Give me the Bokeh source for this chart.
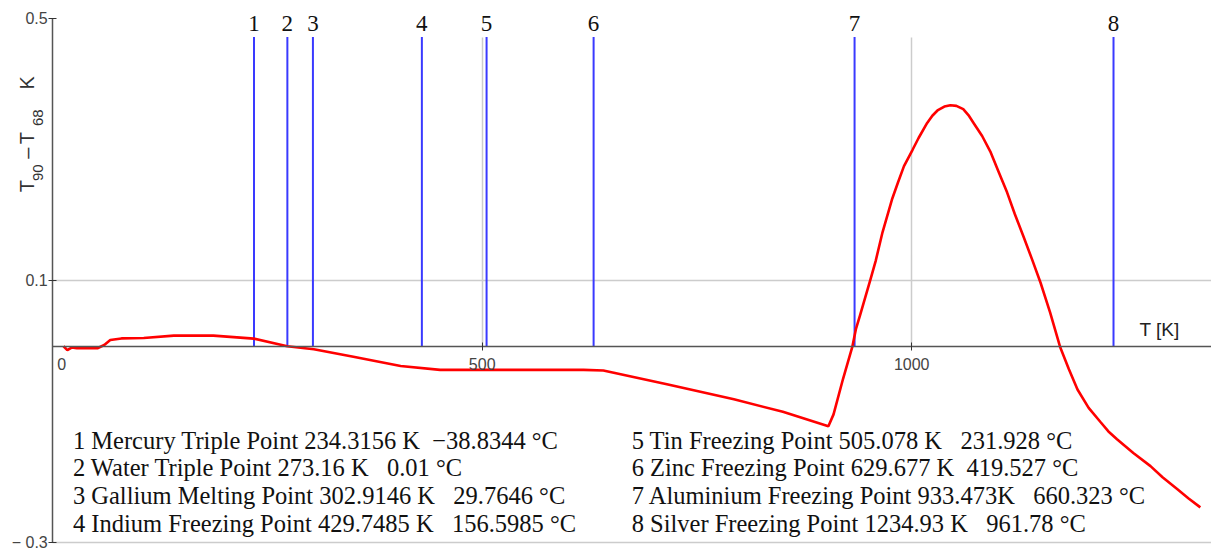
import math
from bokeh.plotting import figure
from bokeh.models import FixedTicker, Range1d, ColumnDataSource
from bokeh.core.properties import value
from bokeh.embed import file_html
from bokeh.resources import INLINE

# ---- data ----
curve_T = [12.6, 17, 22, 28, 52, 60, 67, 80, 106, 141, 187, 234, 273, 304, 350, 405,
           451, 618, 641, 715, 793, 850, 903, 909, 920, 931, 935, 940, 952, 958, 966, 977,
           984, 991, 1001, 1008, 1018, 1024, 1030, 1038, 1045, 1052, 1060, 1066, 1072,
           1082, 1092, 1101, 1111, 1120, 1130, 1140, 1150, 1161, 1173, 1183, 1193, 1206,
           1220, 1229, 1239, 1258, 1278, 1292, 1309, 1322, 1336]
curve_dT = [0.0, -0.006, -0.002, -0.003, -0.003, 0.002, 0.0096, 0.012, 0.0127, 0.0163,
            0.0163, 0.0117, 0.0, -0.0046, -0.016, -0.030, -0.036, -0.036, -0.037, -0.058,
            -0.081, -0.100, -0.122, -0.104, -0.05, 0.0, 0.026, 0.048, 0.102, 0.13, 0.174,
            0.224, 0.25, 0.275, 0.300, 0.318, 0.341, 0.352, 0.360, 0.366, 0.368, 0.367,
            0.362, 0.353, 0.341, 0.321, 0.296, 0.267, 0.235, 0.202, 0.168, 0.133, 0.097,
            0.052, -0.002, -0.035, -0.066, -0.094, -0.116, -0.130, -0.142, -0.163, -0.183,
            -0.200, -0.218, -0.232, -0.246]

fp_num = ["1", "2", "3", "4", "5", "6", "7", "8"]
fp_K = [234.3156, 273.16, 302.9146, 429.7485, 505.078, 629.677, 933.473, 1234.93]
NB = "\u00a0"
fp_text = [
    "1 Mercury Triple Point 234.3156 K" + NB * 2 + "\u221238.8344 \u00b0C",
    "2 Water Triple Point 273.16 K" + NB * 3 + "0.01 \u00b0C",
    "3 Gallium Melting Point 302.9146 K" + NB * 3 + "29.7646 \u00b0C",
    "4 Indium Freezing Point 429.7485 K" + NB * 3 + "156.5985 \u00b0C",
    "5 Tin Freezing Point 505.078 K" + NB * 3 + "231.928 \u00b0C",
    "6 Zinc Freezing Point 629.677 K" + NB * 2 + "419.527 \u00b0C",
    "7 Aluminium Freezing Point 933.473K" + NB * 3 + "660.323 \u00b0C",
    "8 Silver Freezing Point 1234.93 K" + NB * 3 + "961.78 \u00b0C",
]
x_ticks = [0, 500, 1000]
y_ticks = [-0.3, 0.1, 0.5]

# ---- figure ----
X0, X1 = -60.8, 1349.0
Y0, Y1 = -0.3118, 0.5279
p = figure(width=1211, height=550, x_range=Range1d(X0, X1), y_range=Range1d(Y0, Y1),
           output_backend="svg", toolbar_location=None, min_border=0)
p.outline_line_color = None
p.background_fill_color = "white"

# axes crossing at origin
for ax in (p.xaxis, p.yaxis):
    ax.axis_line_color = "#555555"
    ax.axis_line_width = 1.5
    ax.major_tick_line_color = "#333333"
    ax.major_tick_in = 4
    ax.major_tick_out = 4
    ax.minor_tick_line_color = None
    ax.major_label_text_font = "Liberation Sans"
    ax.major_label_text_font_size = "16px"
    ax.major_label_text_color = "#444444"
p.xaxis.fixed_location = 0
p.yaxis.fixed_location = 0
p.xaxis.ticker = FixedTicker(ticks=x_ticks)
p.yaxis.ticker = FixedTicker(ticks=y_ticks)
p.xaxis.bounds = (0, X1)
p.yaxis.bounds = (-0.3, 0.5)
p.xaxis.major_label_overrides = {0: NB * 4 + "0"}
p.yaxis.major_label_overrides = {-0.3: "\u2212 0.3"}
p.xaxis.major_label_standoff = 6
p.yaxis.major_label_standoff = 1

# grids (limited extent in the cross direction)
p.xgrid.ticker = FixedTicker(ticks=[500, 1000])
p.xgrid.cross_bounds = (0, 0.472)
p.ygrid.ticker = FixedTicker(ticks=[-0.3, 0.1])
p.ygrid.cross_bounds = (0, X1)
for g in (p.xgrid, p.ygrid):
    g.grid_line_color = "#cccccc"
    g.grid_line_width = 1.5

# fixed point lines and numbers
fp_src = ColumnDataSource(dict(x=fp_K, y0=[0] * 8, y1=[0.472] * 8, ytxt=[0.4924] * 8, num=fp_num))
p.segment(x0="x", y0="y0", x1="x", y1="y1", source=fp_src, line_color="#3a3aff", line_width=2)
p.text(x="x", y="ytxt", text="num", source=fp_src, text_align="center", text_baseline="middle",
       text_font=value("Liberation Serif"), text_font_size="23px", text_color="#111111")

# curve
p.line(curve_T, curve_dT, line_color="#ff0000", line_width=2.6)

# legend block
lx = [23.5 if i < 4 else 674 for i in range(8)]
ly = [-0.1435 - 0.0423 * (i % 4) for i in range(8)]
p.text(x=lx, y=ly, text=fp_text, text_align="left", text_baseline="middle",
       text_font=value("Liberation Serif"), text_font_size="24.5px", text_color="#111111")

# x-axis title
p.text(x=[1288.5], y=[0.026], text=["T [K]"], text_align="center", text_baseline="middle",
       text_font=value("Liberation Sans"), text_font_size="19px", text_color="#222222")

# y-axis title (rotated, with subscripts)
big = dict(angle=math.pi / 2, text_align="center", text_baseline="middle",
           text_font=value("Liberation Sans"), text_color="#333333")
p.text(x=[-29.9, -29.9, -29.9, -29.9], y=[0.2443, 0.2947, 0.3176, 0.4023],
       text=["T", "\u2013", "T", "K"], text_font_size="20px", **big)
p.text(x=[-17.1, -17.1], y=[0.2649, 0.3489], text=["90", "68"], text_font_size="15px", **big)

open("out.html", "w").write(file_html(p, INLINE))
